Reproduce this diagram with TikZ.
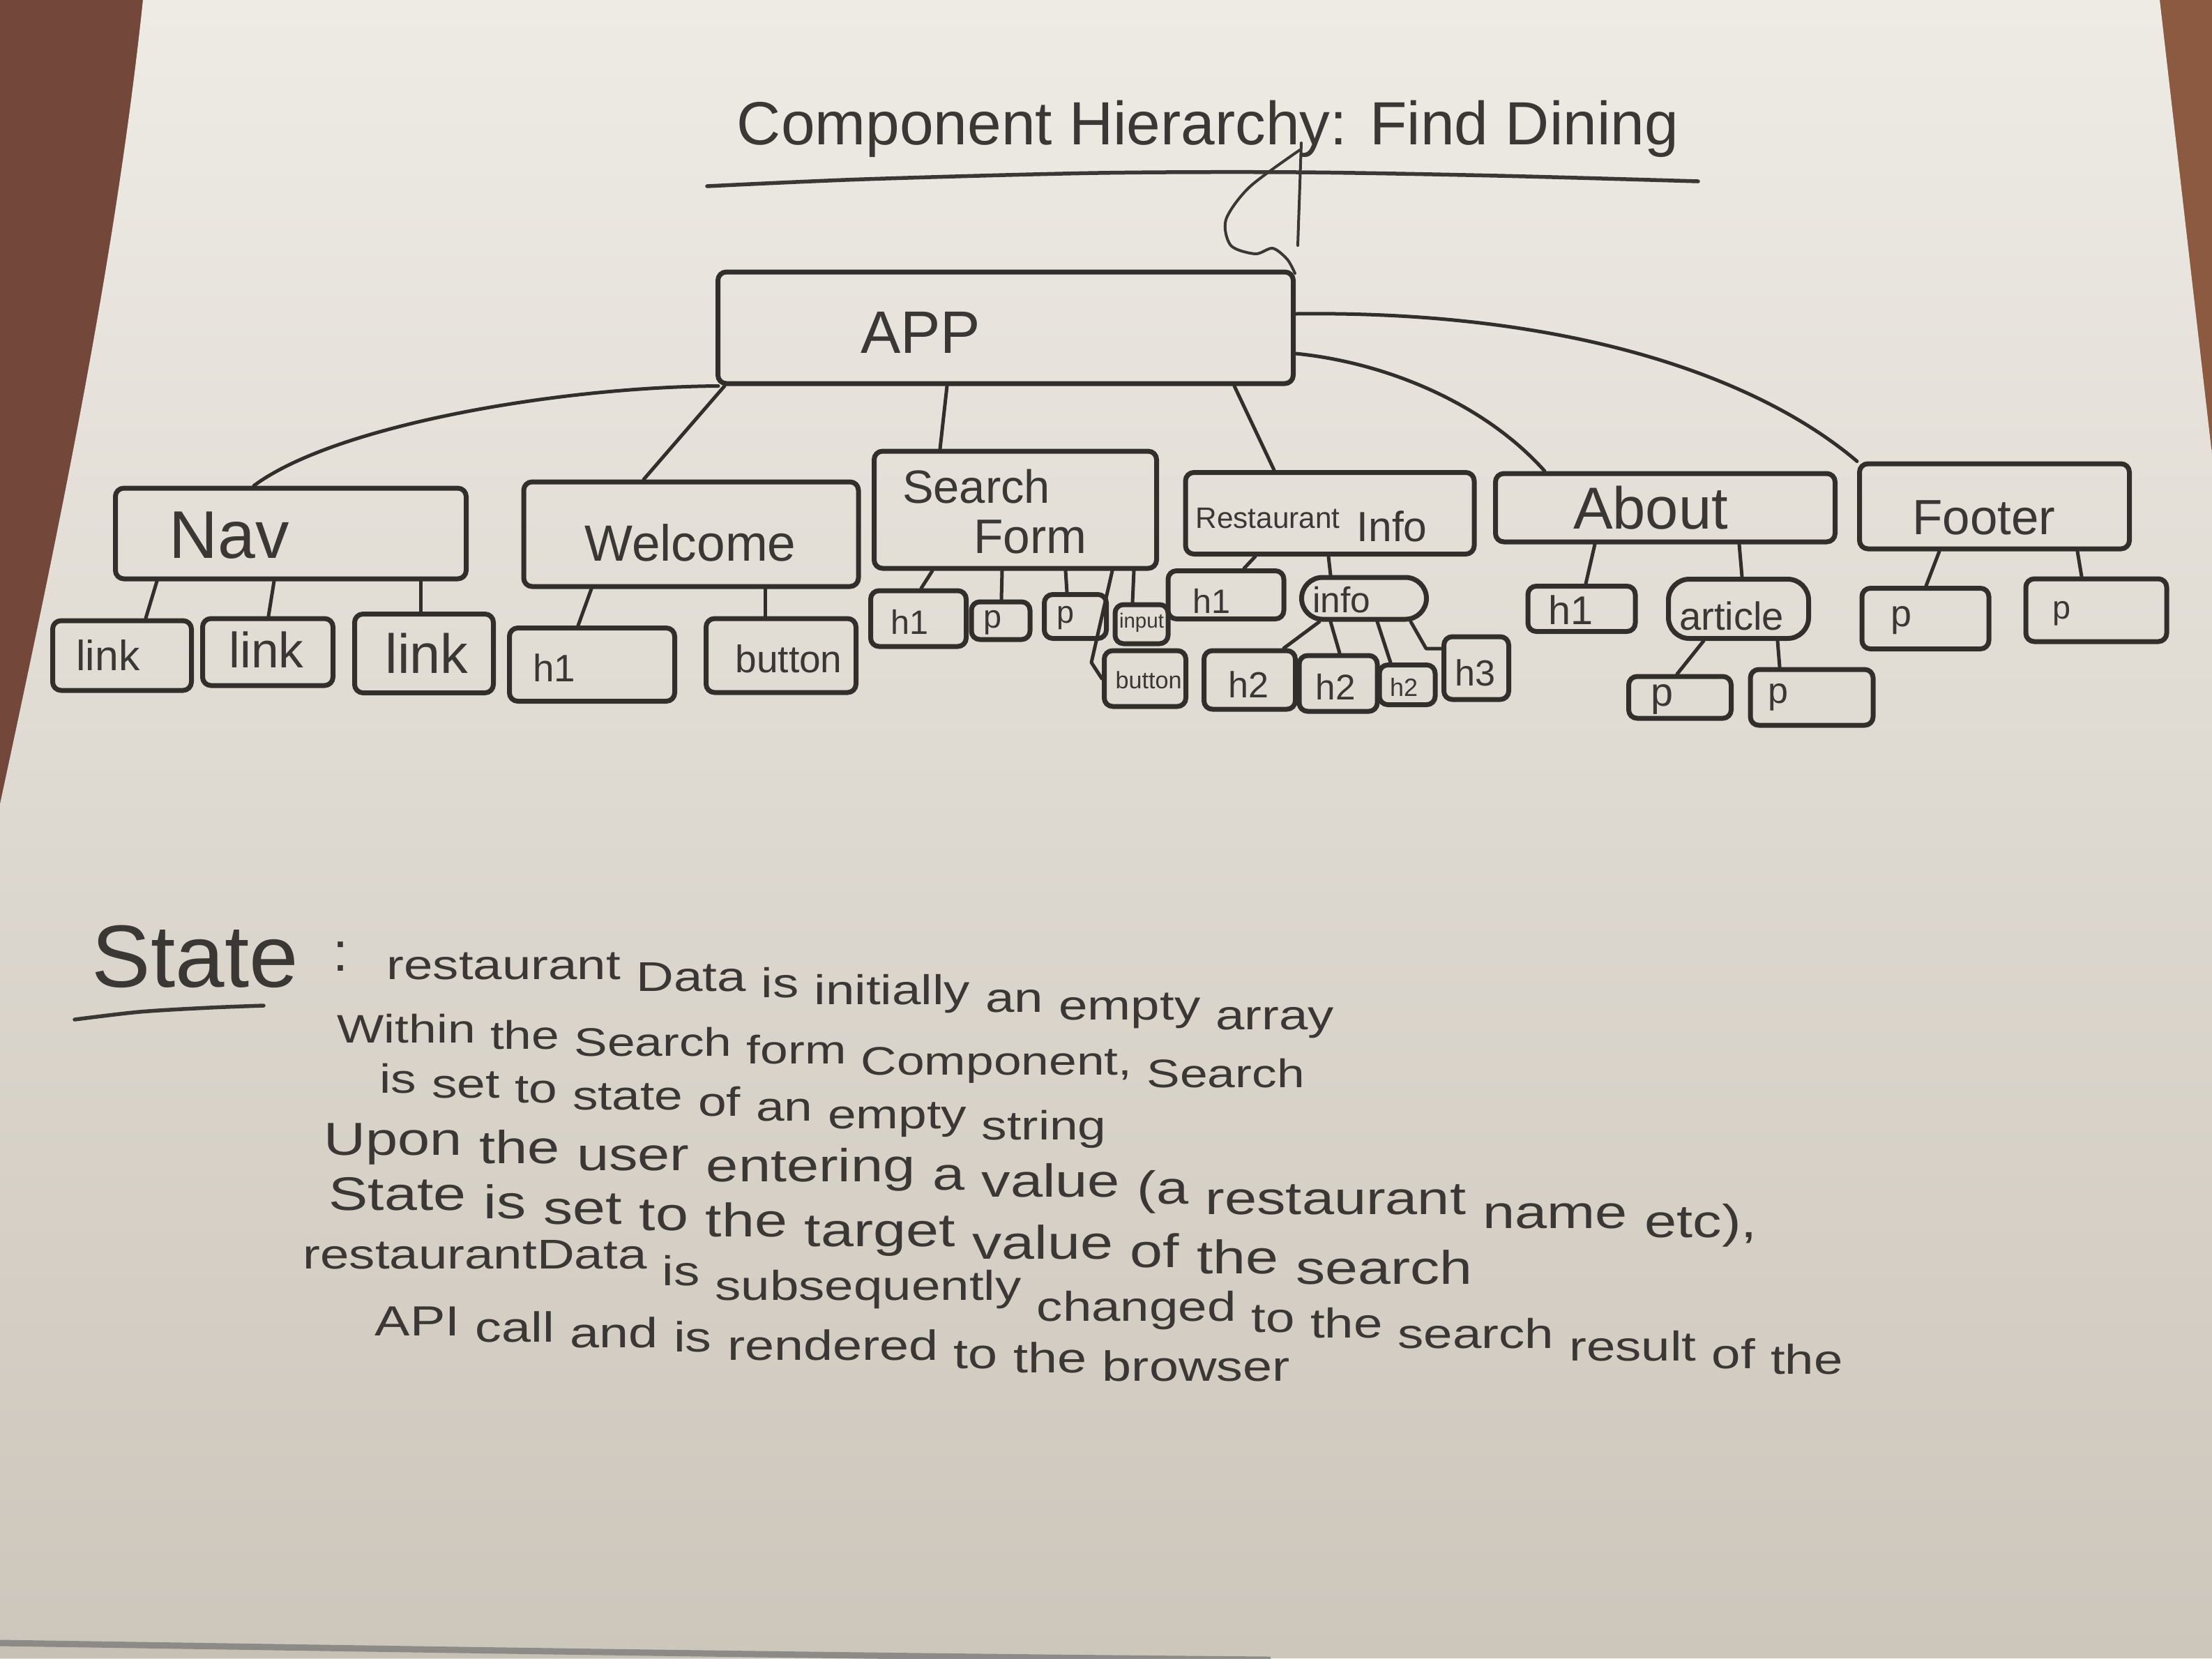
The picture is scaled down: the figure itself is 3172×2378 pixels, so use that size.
\documentclass[tikz,border=0pt]{standalone}
\usepackage{fontspec}
\usepackage{graphicx}
\setmainfont{Liberation Sans}
\usetikzlibrary{calc}

\definecolor{ink}{HTML}{312E2B}
\definecolor{pencol}{HTML}{3A3734}
\definecolor{woodL}{HTML}{73483A}
\definecolor{woodR}{HTML}{8C5A40}
\definecolor{paperT}{HTML}{EEEBE5}
\definecolor{paperB}{HTML}{CDC6BB}

% hand lettering squeezed to a given width
\newcommand{\hw}[2]{\resizebox{#1}{!}{#2}}

\tikzset{
  box/.style={draw=ink, line width=0.7mm, line join=round, inner sep=0pt,
    rounded corners=1.2mm},
  softbox/.style={box, rounded corners=3mm},
  wire/.style={draw=ink, line width=0.5mm, line cap=round, line join=round},
  pen/.style={draw=pencol, line width=0.55mm, line cap=round, line join=round},
  txt/.style={text=pencol, inner sep=0pt},
}

% a sloping line of notes, set word by word: each word sits on the
% sloping baseline taken at its own middle (an empty box of the same
% size is laid first to find that middle)
% #1 name prefix, #2 start of the baseline, #3 drop per unit of run,
% #4 font size (pt), #5 the words
\newcommand{\slantline}[5]{%
  \node[inner sep=0pt, anchor=base west] (#1w0) at #2 {};
  \foreach \w [count=\i, remember=\i as \j (initially 0)] in {#5} {%
    \path let \p2=(#1w\j.base east) in
      node[inner sep=0pt, anchor=base west, font=\fontsize{#4}{#4}\selectfont] (#1m\i)
        at ({\x2+(\j>0)*0.278*#4pt}, \y2) {\scalebox{1}[0.8]{\phantom{\w}}};
    \path let \p1=(#1w0.base west), \p2=(#1m\i.base west), \p3=(#1m\i.base east) in
      node[txt, anchor=base west, font=\fontsize{#4}{#4}\selectfont] (#1w\i)
        at (\x2, {\y1-#3*(0.5*\x2+0.5*\x3-\x1)}) {\scalebox{1}[0.8]{\w}};
  }%
}

\begin{document}
\begin{tikzpicture}[x=0.1mm, y=-0.1mm]
\useasboundingbox (0,0) rectangle (3172,2378);

% table and sheet of paper
\fill[woodL] (0,0) rectangle (3172,2378);
\fill[woodR] (2800,0) rectangle (3172,800);
\shade[top color=paperT, bottom color=paperB]
  (205,0) -- (3097,0) -- (3172,652) -- (3172,2378) -- (0,2378) -- (0,1153)
  .. controls (80,780) and (165,380) .. (205,0) -- cycle;
\fill[paperB!92!black, opacity=0.35] (0,2356) .. controls (600,2365) and (1200,2375) .. (1822,2380) -- (0,2380) -- cycle;
\draw[draw=black!55, line width=0.9mm, opacity=0.7] (0,2356) .. controls (600,2365) and (1200,2375) .. (1822,2380);

% title
\node[txt, anchor=base] (title) at (1732,207) {\hw{135mm}{Component Hierarchy: Find Dining}};
\draw[pen] plot[smooth] coordinates {(1014,267) (1239,257) (1574,248) (1861,247) (2148,252) (2435,260)};
\draw[pen, line width=0.4mm] (1866,205) -- (1861,352);
\draw[pen, line width=0.4mm] plot[smooth] coordinates {(1864,215) (1792,268) (1758,315) (1765,352) (1800,364) (1825,356) (1846,372) (1857,392)};

% root
\node[box, minimum width=82.5mm, minimum height=16mm] (app) at (1442,470) {};
\node[txt] (tApp) at (1320,477) {\hw{17.2mm}{APP}};

% second level
\node[box, minimum width=50.3mm, minimum height=13mm] (nav) at (417,765) {};
\node[box, minimum width=48mm, minimum height=15mm] (welcome) at (991,766) {};
\node[box, minimum width=40.5mm, minimum height=16.8mm] (sform) at (1456,731) {};
\node[box, minimum width=41.4mm, minimum height=11.7mm] (rinfo) at (1907,736) {};
\node[box, minimum width=48.7mm, minimum height=9.8mm] (about) at (2388,728) {};
\node[box, minimum width=38.7mm, minimum height=12.2mm] (footer) at (2860,726) {};

\node[txt] (tNav) at (329,768) {\hw{17.2mm}{Nav}};
\node[txt] (tWel) at (990,778) {\hw{30.3mm}{Welcome}};
\node[txt] (tSea) at (1400,698) {\hw{21.2mm}{Search}};
\node[txt] (tForm) at (1477,770) {\hw{16.2mm}{Form}};
\node[txt] (tRest) at (1818,743) {\hw{20.7mm}{Restaurant}};
\node[txt] (tInfo) at (1996,755) {\hw{10.1mm}{Info}};
\node[txt] (tAbout) at (2367,728) {\hw{22.2mm}{About}};
\node[txt] (tFooter) at (2845,742) {\hw{20.5mm}{Footer}};

% third level
\node[box, minimum width=19.9mm, minimum height=10mm] (link1) at (175,940) {};
\node[box, minimum width=18.7mm, minimum height=9.6mm] (link2) at (384,935) {};
\node[box, minimum width=19.9mm, minimum height=11.3mm] (link3) at (608,937) {};
\node[box, minimum width=23.7mm, minimum height=10.5mm] (wh1) at (849,953) {};
\node[box, minimum width=21.5mm, minimum height=10.6mm] (wbutton) at (1120,940) {};
\node[box, minimum width=13.7mm, minimum height=8mm] (sh1) at (1317,887) {};
\node[box, minimum width=8.4mm, minimum height=5.4mm] (sp1) at (1435,890) {};
\node[box, minimum width=8.9mm, minimum height=6.3mm] (sp2) at (1542,884) {};
\node[box, minimum width=7.6mm, minimum height=5.6mm] (sinput) at (1637,895) {};
\node[box, minimum width=11.7mm, minimum height=8mm] (sbutton) at (1642,973) {};
\node[box, minimum width=16.6mm, minimum height=6.9mm] (rh1) at (1758,853) {};
\node[softbox, minimum width=17.9mm, minimum height=6mm] (info) at (1956,858) {};
\node[box, minimum width=13.1mm, minimum height=8.4mm] (rh2a) at (1792,975) {};
\node[box, minimum width=11.2mm, minimum height=8mm] (rh2b) at (1919,980) {};
\node[box, minimum width=8mm, minimum height=5.7mm] (rh2c) at (2018,982) {};
\node[box, minimum width=9.3mm, minimum height=9mm] (rh3) at (2117,958) {};
\node[box, minimum width=15.4mm, minimum height=6.5mm] (ah1) at (2268,873) {};
\node[softbox, minimum width=20.1mm, minimum height=8.5mm] (article) at (2493,873) {};
\node[box, minimum width=14.7mm, minimum height=6mm] (ap1) at (2409,1000) {};
\node[box, minimum width=17.6mm, minimum height=8mm] (ap2) at (2598,1000) {};
\node[box, minimum width=18.2mm, minimum height=8.7mm] (fp1) at (2761,887) {};
\node[box, minimum width=20.2mm, minimum height=9mm] (fp2) at (3006,875) {};

\node[txt] (tL1) at (155,940) {\hw{9.1mm}{link}};
\node[txt] (tL2) at (382,932) {\hw{10.7mm}{link}};
\node[txt] (tL3) at (612,937) {\hw{11.9mm}{link}};
\node[txt] (tWh1) at (795,958) {\hw{6.1mm}{h1}};
\node[txt] (tWbut) at (1131,945) {\hw{15.3mm}{button}};
\node[txt] (tSh1) at (1304,892) {\hw{5.4mm}{h1}};
\node[txt] (tSp1) at (1423,893) {\hw{2.6mm}{p}};
\node[txt] (tSp2) at (1528,886) {\hw{2.5mm}{p}};
\node[txt] (tSin) at (1637,893) {\hw{6.4mm}{input}};
\node[txt] (tSbut) at (1647,975) {\hw{9.5mm}{button}};
\node[txt] (tRh1) at (1737,862) {\hw{5.4mm}{h1}};
\node[txt] (tInfo2) at (1924,860) {\hw{8.3mm}{info}};
\node[txt] (tH2a) at (1790,982) {\hw{5.8mm}{h2}};
\node[txt] (tH2b) at (1915,985) {\hw{5.7mm}{h2}};
\node[txt] (tH2c) at (2013,985) {\hw{4mm}{h2}};
\node[txt] (tH3) at (2115,965) {\hw{5.8mm}{h3}};
\node[txt] (tAh1) at (2252,875) {\hw{6.4mm}{h1}};
\node[txt] (tArt) at (2483,883) {\hw{15mm}{article}};
\node[txt] (tAp1) at (2383,1003) {\hw{3.2mm}{p}};
\node[txt] (tAp2) at (2550,1000) {\hw{2.9mm}{p}};
\node[txt] (tFp1) at (2726,890) {\hw{3mm}{p}};
\node[txt] (tFp2) at (2956,880) {\hw{2.6mm}{p}};

% connectors from the root
\draw[wire] (app.south -| 1030,0) .. controls (800,555) and (480,610) .. (nav.north -| 364,0);
\draw[wire] (app.south -| 1039,0) -- (welcome.north -| 923,0);
\draw[wire] (app.south -| 1358,0) -- (sform.north -| 1348,0);
\draw[wire] (app.south -| 1770,0) -- (rinfo.north -| 1827,0);
\draw[wire] (app.east |- 0,507) .. controls (1990,520) and (2130,580) .. (about.north -| 2215,0);
\draw[wire] (app.east |- 0,450) .. controls (2250,445) and (2520,540) .. (footer.north west);

% Nav and Welcome children
\draw[wire] (nav.south -| 225,0) -- (link1.north -| 209,0);
\draw[wire] (nav.south -| 393,0) -- (link2.north -| 385,0);
\draw[wire] (nav.south -| 603,0) -- (link3.north -| 603,0);
\draw[wire] (welcome.south -| 848,0) -- (wh1.north -| 829,0);
\draw[wire] (welcome.south -| 1097,0) -- (wbutton.north -| 1097,0);

% Search Form children
\coordinate (kinkA) at (1565,950);
\draw[wire] (sform.south -| 1337,0) -- (sh1.north -| 1321,0);
\draw[wire] (sform.south -| 1437,0) -- (sp1.north -| 1436,0);
\draw[wire] (sform.south -| 1528,0) -- (sp2.north -| 1530,0);
\draw[wire] (sform.south -| 1626,0) -- (sinput.north -| 1624,0);
\draw[wire] (sform.south -| 1595,0) -- (kinkA) -- (sbutton.west);

% Restaurant Info children
\coordinate (kinkB) at (2045,930);
\draw[wire] (rinfo.south -| 1800,0) -- (rh1.north -| 1784,0);
\draw[wire] (rinfo.south -| 1905,0) -- (info.north -| 1908,0);
\draw[wire] (info.south -| 1892,0) -- (rh2a.north -| 1841,0);
\draw[wire] (info.south -| 1908,0) -- (rh2b.north -| 1921,0);
\draw[wire] (info.south -| 1975,0) -- (rh2c.north -| 1994,0);
\draw[wire] (info.south -| 2023,0) -- (kinkB) -- (rh3.west |- kinkB);

% About and Footer children
\draw[wire] (about.south -| 2287,0) -- (ah1.north -| 2274,0);
\draw[wire] (about.south -| 2494,0) -- (article.north -| 2498,0);
\draw[wire] (article.south -| 2443,0) -- (ap1.north -| 2405,0);
\draw[wire] (article.south -| 2549,0) -- (ap2.north -| 2552,0);
\draw[wire] (footer.south -| 2781,0) -- (fp1.north -| 2762,0);
\draw[wire] (footer.south -| 2979,0) -- (fp2.north -| 2985,0);

% notes on state
\node[txt, anchor=base west] (stateT) at (131,1415) {\hw{29.6mm}{State}};
\draw[pen] plot[smooth] coordinates {(107,1462) (200,1451) (300,1445) (378,1442)};
\node[txt, anchor=base] (colon) at (488,1392) {\hw{2.2mm}{:}};
\slantline{La}{(549,1393)}{0.065}{21.2}{restaurant,Data,is,initially,an,empty,array}
\slantline{Lb}{(478,1490)}{0.054}{20.3}{Within,the,Search,form,{Component,},Search}
\slantline{Lc}{(539,1565)}{0.072}{20.8}{is,set,to,state,of,an,empty,string}
\slantline{Ld}{(459,1650)}{0.063}{23.6}{Upon,the,user,entering,a,value,{(a},restaurant,name,{etc),}}
\slantline{Le}{(466,1728)}{0.075}{24.0}{State,is,set,to,the,target,value,of,the,search}
\slantline{Lf}{(429,1800)}{0.079}{21.2}{restaurantData,is,subsequently,changed,to,the,search,result,of,the}
\slantline{Lg}{(532,1912)}{0.058}{21.5}{API,call,and,is,rendered,to,the,browser}
\end{tikzpicture}
\end{document}
